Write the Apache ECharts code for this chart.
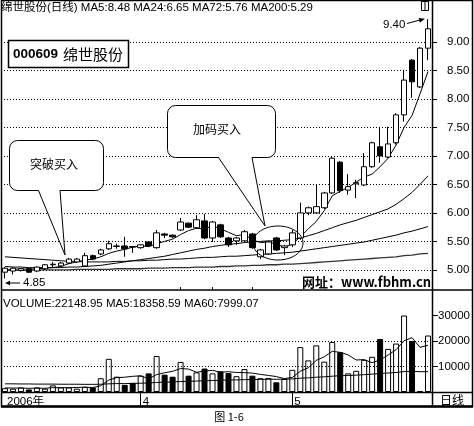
<!DOCTYPE html>
<html>
<head>
<meta charset="utf-8">
<script src="https://cdn.jsdelivr.net/npm/echarts@6/dist/echarts.min.js"></script>
<style>
  html, body { margin: 0; padding: 0; background: #fff; }
  #chart { width: 474px; height: 426px; }
</style>
</head>
<body>
<div id="chart"></div>
<script>
// 日期标签（只有月份起点有字）
var dateLabels = ['2006年','','','','','','','','','','','','','','','','','4','','','','','','','','','','','','','','','','','','','5','','','','','','','','','','','','','','','','',''];
var monthStartIdx = [17, 36];
var weekTickIdx = [22, 26, 31];

// K线 开/收/低/高
var openPrices  = [4.96,4.98,4.99,5.02,4.98,5.02,5.09,5.07,5.12,5.14,5.07,5.25,5.28,5.37,5.41,5.42,5.41,5.39,5.49,5.39,5.63,5.61,5.70,5.82,5.74,5.86,5.56,5.79,5.56,5.51,5.51,5.63,5.23,5.28,5.56,5.39,5.44,5.56,6.00,6.00,6.09,6.35,6.89,6.40,6.51,6.49,6.81,7.16,6.98,7.23,7.72,8.68,8.21,8.89];
var closePrices = [5.03,5.03,5.02,4.96,5.05,5.09,5.10,5.12,5.19,5.19,5.25,5.19,5.35,5.46,5.42,5.37,5.40,5.44,5.42,5.65,5.61,5.58,5.84,5.75,5.88,5.56,5.84,5.58,5.44,5.56,5.67,5.39,5.35,5.49,5.35,5.42,5.65,6.00,6.09,6.11,6.35,6.96,6.39,6.46,6.53,6.81,7.23,7.00,7.21,7.72,8.33,8.30,8.89,9.23];
var lowPrices   = [4.85,4.92,4.97,4.95,4.96,5.00,5.04,5.05,5.11,5.12,5.05,5.17,5.26,5.35,5.37,5.23,5.30,5.37,5.40,5.37,5.56,5.56,5.68,5.74,5.72,5.54,5.49,5.56,5.40,5.44,5.49,5.37,5.19,5.26,5.33,5.26,5.40,5.53,5.96,5.98,6.07,6.33,6.35,6.32,6.26,6.47,6.79,6.88,6.96,7.20,7.60,8.02,8.19,8.68];
var highPrices  = [5.05,5.05,5.03,5.03,5.06,5.10,5.14,5.14,5.21,5.21,5.30,5.27,5.37,5.51,5.46,5.58,5.42,5.45,5.50,5.70,5.65,5.62,5.91,5.83,5.96,5.98,5.86,5.81,5.58,5.58,5.70,5.65,5.37,5.51,5.58,5.44,5.70,6.18,6.11,6.49,6.37,6.98,6.91,6.68,6.58,7.05,7.25,7.51,7.51,7.75,8.51,8.70,8.91,9.40];

// 均线
var ma5   = [5.00,5.01,5.02,5.01,5.02,5.03,5.04,5.06,5.11,5.14,5.17,5.19,5.23,5.29,5.33,5.36,5.40,5.42,5.41,5.46,5.50,5.54,5.62,5.69,5.73,5.72,5.77,5.72,5.66,5.60,5.62,5.53,5.48,5.49,5.45,5.40,5.45,5.58,5.72,5.85,6.04,6.30,6.38,6.45,6.54,6.63,6.68,6.81,6.96,7.19,7.50,7.71,8.09,8.48];
var ma24  = [5.06,5.05,5.05,5.04,5.04,5.04,5.04,5.04,5.05,5.05,5.06,5.07,5.08,5.10,5.12,5.14,5.16,5.18,5.20,5.22,5.24,5.27,5.30,5.33,5.36,5.38,5.41,5.43,5.45,5.46,5.48,5.49,5.50,5.51,5.51,5.52,5.53,5.56,5.60,5.64,5.69,5.74,5.79,5.83,5.87,5.92,5.97,6.02,6.07,6.15,6.25,6.36,6.50,6.65];
var ma72  = [5.23,5.22,5.21,5.20,5.19,5.18,5.17,5.16,5.15,5.15,5.14,5.14,5.14,5.14,5.15,5.15,5.16,5.16,5.17,5.17,5.18,5.19,5.19,5.20,5.21,5.22,5.22,5.23,5.24,5.24,5.25,5.26,5.27,5.28,5.29,5.30,5.31,5.33,5.35,5.37,5.39,5.41,5.43,5.45,5.47,5.49,5.52,5.55,5.58,5.61,5.65,5.68,5.72,5.76];
var ma200 = [4.99,4.99,4.99,4.99,5.00,5.00,5.00,5.00,5.00,5.01,5.01,5.01,5.01,5.01,5.02,5.02,5.02,5.02,5.03,5.03,5.03,5.04,5.04,5.04,5.05,5.05,5.05,5.06,5.06,5.07,5.07,5.08,5.08,5.09,5.09,5.10,5.10,5.11,5.12,5.13,5.14,5.15,5.16,5.17,5.18,5.19,5.20,5.21,5.22,5.23,5.25,5.26,5.28,5.29];

// 成交量及均量
var volumes  = [1500,1300,1800,1000,1800,1300,2600,1800,1800,1300,2000,1800,5400,13000,6000,2800,3600,6400,7300,14100,6800,6000,11800,6400,7700,9200,7300,8100,7400,6200,9000,6400,5400,5500,3800,5100,8700,17600,12400,18300,11900,19600,15600,7300,8300,12600,13800,20800,16900,19000,30000,20000,400,22149];
var volMa5   = [1600,1550,1550,1450,1500,1450,1700,1700,1700,1750,1900,1750,2450,4700,5650,5800,6150,6350,5200,6800,7550,8100,9200,9000,7750,8200,8500,7750,7950,7650,7600,7400,6900,6500,6050,5250,5700,8150,9500,12400,13800,15950,15550,14550,12550,12700,11500,12550,14500,16600,20100,21300,17500,18350];
var volMa60  = [3200,3200,3150,3150,3100,3100,3100,3050,3050,3050,3000,3000,3050,3200,3300,3300,3350,3450,3550,3750,3850,3950,4100,4200,4300,4400,4500,4600,4700,4750,4850,4900,4950,5000,5000,5050,5150,5400,5550,5800,5950,6200,6400,6500,6600,6800,7000,7250,7450,7650,8000,8150,7950,8000];

var priceTicks = [5, 5.5, 6, 6.5, 7, 7.5, 8, 8.5, 9];
var volTicks = [10000, 20000, 30000];

var FONT = '"Liberation Sans", "Noto Sans CJK SC", sans-serif';

var kData = openPrices.map(function (o, i) {
  return [o, closePrices[i], lowPrices[i], highPrices[i]];
});
var volData = volumes.map(function (v, i) {
  var down = closePrices[i] < openPrices[i];
  return { value: v, itemStyle: { color: down ? '#000' : '#fff', borderColor: '#000', borderWidth: 1 } };
});

function maLine(name, data, xi, yi, color, width) {
  return {
    name: name, type: 'line', xAxisIndex: xi, yAxisIndex: yi, data: data,
    symbol: 'none', smooth: false, silent: true, z: 3,
    lineStyle: { color: color, width: width }
  };
}

function txt(text, x, y, font, align, vAlign) {
  return {
    type: 'text', z: 60,
    style: { text: text, x: x, y: y, font: font, fill: '#000', textAlign: align || 'left', textVerticalAlign: vAlign || 'middle' }
  };
}

var chart = echarts.init(document.getElementById('chart'));
var option = {
  animation: false,
  backgroundColor: '#fff',
  grid: [
    { left: 1, right: 42, top: 2, height: 285, outerBoundsMode: 'none' },
    { left: 1, right: 42, top: 290, height: 102, outerBoundsMode: 'none' }
  ],
  xAxis: [
    { gridIndex: 0, type: 'category', data: dateLabels, boundaryGap: true,
      axisLine: { show: false }, axisTick: { show: false }, axisLabel: { show: false }, splitLine: { show: false } },
    { gridIndex: 1, type: 'category', data: dateLabels, boundaryGap: true,
      axisLine: { show: false },
      axisTick: { show: true, alignWithLabel: true, length: 14, lineStyle: { color: '#000', width: 1 },
        interval: function (i) { return monthStartIdx.indexOf(i) >= 0; } },
      axisLabel: { show: true, align: 'left', margin: 4, padding: [0, 0, 0, 2], fontSize: 11.5, color: '#000', fontFamily: FONT,
        interval: function (i, v) { return v !== ''; } },
      splitLine: { show: false } },
    { gridIndex: 1, type: 'category', data: dateLabels, boundaryGap: true,
      axisLine: { show: false }, axisLabel: { show: false }, splitLine: { show: false },
      axisTick: { show: true, alignWithLabel: true, length: 3, lineStyle: { color: '#000', width: 1 },
        interval: function (i) { return weekTickIdx.indexOf(i) >= 0; } } }
  ],
  yAxis: [
    { gridIndex: 0, type: 'value', position: 'right', min: 4.7, max: 9.7, scale: true,
      axisLine: { show: false },
      axisTick: { show: true, length: 5, customValues: priceTicks, lineStyle: { color: '#000' } },
      axisLabel: { customValues: priceTicks, margin: 15, fontSize: 11.5, color: '#000', fontFamily: FONT,
        formatter: function (v) { return v.toFixed(2); } },
      splitLine: { show: true, lineStyle: { type: [1, 2], color: '#000', width: 1 } } },
    { gridIndex: 1, type: 'value', position: 'right', min: 0, max: 40000,
      axisLine: { show: false },
      axisTick: { show: true, length: 6, customValues: volTicks, lineStyle: { color: '#000' } },
      axisLabel: { customValues: volTicks, margin: 6, fontSize: 11.5, color: '#000', fontFamily: FONT,
        formatter: function (v) { return String(v); } },
      splitLine: { show: false } }
  ],
  series: [
    { name: 'K', type: 'candlestick', xAxisIndex: 0, yAxisIndex: 0, data: kData, barWidth: 6, z: 4,
      itemStyle: { color: '#fff', color0: '#000', borderColor: '#000', borderColor0: '#000', borderColorDoji: '#000', borderWidth: 1 } },
    maLine('MA5', ma5, 0, 0, '#000', 1),
    maLine('MA24', ma24, 0, 0, '#000', 1),
    maLine('MA72', ma72, 0, 0, '#000', 1),
    maLine('MA200', ma200, 0, 0, '#333', 1.3),
    { name: 'VOL', type: 'bar', xAxisIndex: 1, yAxisIndex: 1, data: volData, barWidth: 6, z: 2,
      markLine: { silent: true, symbol: 'none', label: { show: false },
        lineStyle: { type: [1, 2], color: '#000', width: 1 },
        data: [{ yAxis: 10000 }, { yAxis: 20000 }] } },
    maLine('VMA5', volMa5, 1, 1, '#000', 1),
    maLine('VMA60', volMa60, 1, 1, '#000', 1)
  ],
  graphic: [
    // 外框与分隔线
    { type: 'rect', z: 70, shape: { x: 1.5, y: 0.5, width: 471, height: 406 }, style: { fill: 'none', stroke: '#000', lineWidth: 1.5 } },
    { type: 'line', z: 70, shape: { x1: 1, y1: 406.5, x2: 473, y2: 406.5 }, style: { stroke: '#000', lineWidth: 2.5 } },
    { type: 'line', z: 70, shape: { x1: 1, y1: 290, x2: 473, y2: 290 }, style: { stroke: '#000', lineWidth: 1.5 } },
    { type: 'line', z: 70, shape: { x1: 1, y1: 392.5, x2: 473, y2: 392.5 }, style: { stroke: '#000', lineWidth: 1.5 } },
    { type: 'line', z: 70, shape: { x1: 432.5, y1: 0, x2: 432.5, y2: 407 }, style: { stroke: '#000', lineWidth: 1.5 } },

    // 标题
    txt('绵世股份(日线) MA5:8.48 MA24:6.65 MA72:5.76 MA200:5.29', 1, 8, '11.5px ' + FONT),
    txt('VOLUME:22148.95 MA5:18358.59 MA60:7999.07', 3, 303.5, '11.5px ' + FONT),
    txt('日线', 452, 400, '12px "Noto Sans CJK SC"', 'center'),

    // 股票名称框
    { type: 'rect', z: 50, shape: { x: 8.5, y: 40.5, width: 120, height: 27 }, style: { fill: '#fff', stroke: '#000', lineWidth: 1.5 } },
    txt('000609', 13, 54.5, 'bold 13.5px ' + FONT),
    txt('绵世股份', 63, 54.5, '15px "Noto Sans CJK SC"'),

    // 突破买入 气泡
    { type: 'rect', z: 50, shape: { x: 9.5, y: 140.5, width: 94, height: 50, r: 8 }, style: { fill: '#fff', stroke: '#000', lineWidth: 1 } },
    { type: 'polygon', z: 51, shape: { points: [[38.5, 190], [65, 255], [60, 190]] }, style: { fill: '#fff' } },
    { type: 'polyline', z: 52, shape: { points: [[38.5, 190.5], [65, 255], [60, 190.5]] }, style: { fill: 'none', stroke: '#000', lineWidth: 1 } },
    txt('突破买入', 54, 164, '12px "Noto Sans CJK SC"', 'center'),

    // 加码买入 气泡
    { type: 'rect', z: 50, shape: { x: 167.5, y: 105.5, width: 108, height: 52, r: 8 }, style: { fill: '#fff', stroke: '#000', lineWidth: 1 } },
    { type: 'polygon', z: 51, shape: { points: [[218.5, 157], [265, 226], [252, 157]] }, style: { fill: '#fff' } },
    { type: 'polyline', z: 52, shape: { points: [[218.5, 157.5], [265, 226], [252, 157.5]] }, style: { fill: 'none', stroke: '#000', lineWidth: 1 } },
    txt('加码买入', 217, 129, '12px "Noto Sans CJK SC"', 'center'),
    { type: 'ellipse', z: 52, shape: { cx: 278, cy: 243, rx: 25, ry: 17 }, style: { fill: 'none', stroke: '#000', lineWidth: 1 } },

    // 9.40 标注
    txt('9.40', 383, 25, '11.5px ' + FONT),
    { type: 'line', z: 60, shape: { x1: 407, y1: 23.5, x2: 420, y2: 20 }, style: { stroke: '#000', lineWidth: 1 } },
    { type: 'polygon', z: 60, shape: { points: [[425, 18.8], [419.8, 22.7], [418.6, 17.9]] }, style: { fill: '#000' } },
    { type: 'rect', z: 60, shape: { x: 421.5, y: 1.5, width: 7, height: 9 }, style: { fill: '#fff', stroke: '#000', lineWidth: 1 } },
    { type: 'line', z: 61, shape: { x1: 425, y1: 1.5, x2: 425, y2: 10.5 }, style: { stroke: '#000', lineWidth: 1 } },

    // 4.85 标注
    { type: 'line', z: 60, shape: { x1: 9, y1: 283, x2: 20, y2: 283 }, style: { stroke: '#000', lineWidth: 1 } },
    { type: 'polygon', z: 60, shape: { points: [[5, 283], [10, 280.8], [10, 285.2]] }, style: { fill: '#000' } },
    txt('4.85', 23, 283, '11.5px ' + FONT),

    // 水印网址
    txt('网址：www.fbhm.cn', 302, 289, 'bold 13px "Noto Sans CJK SC"', 'left', 'bottom'),

    // 图注
    txt('图 1-6', 229, 417, '11px "Noto Sans CJK SC"', 'center')
  ]
};
chart.setOption(option);
</script>
</body>
</html>
